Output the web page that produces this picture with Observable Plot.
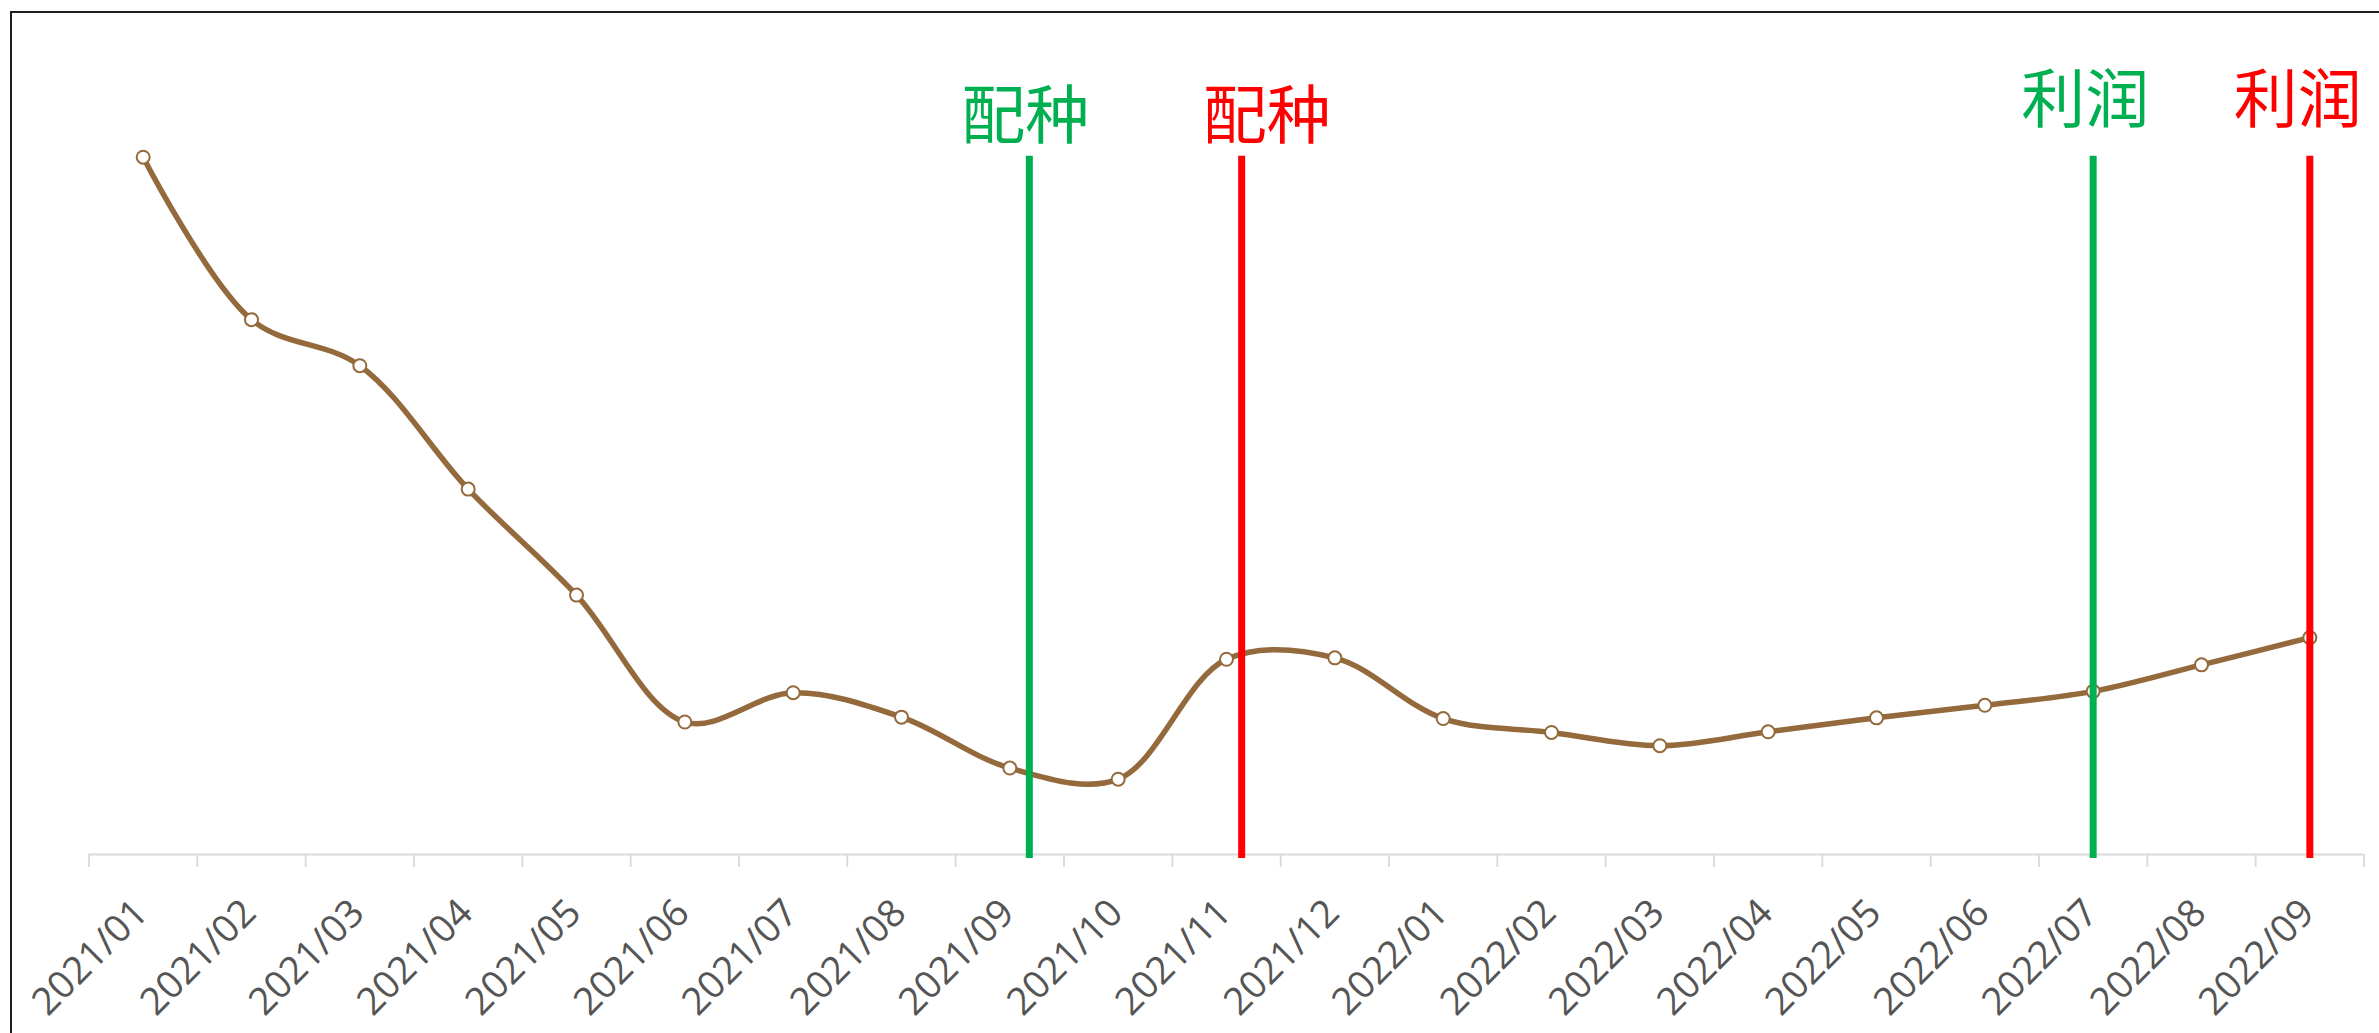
<!DOCTYPE html>
<html>
<head>
<meta charset="utf-8">
<script src="https://cdn.jsdelivr.net/npm/d3@7"></script>
<script src="https://cdn.jsdelivr.net/npm/@observablehq/plot@0.6"></script>
<style>
  html, body { margin: 0; padding: 0; background: #fff; overflow: hidden; }
  #wrap { position: relative; width: 2379px; height: 1033px; }
  #frame { position: absolute; left: 10px; top: 11px; width: 2500px; height: 1200px;
           border-left: 2px solid #1e1e1e; border-top: 2px solid #1e1e1e; pointer-events: none; }
  #chart { position: absolute; left: 0; top: 0; }
</style>
</head>
<body>
<div id="wrap"><div id="chart"></div><div id="frame"></div></div>
<script>
// ---- data ----
const months = ["2021/01","2021/02","2021/03","2021/04","2021/05","2021/06","2021/07",
  "2021/08","2021/09","2021/10","2021/11","2021/12","2022/01","2022/02","2022/03",
  "2022/04","2022/05","2022/06","2022/07","2022/08","2022/09"];
const values = [100, 76.7, 70.1, 52.4, 37.2, 19.0, 23.2, 19.7, 12.4, 10.8, 28.0,
  28.2, 19.5, 17.5, 15.6, 17.6, 19.6, 21.4, 23.4, 27.2, 31.1];
// event markers, position in month-index units
const eventPositions = [8.18, 10.14, 18, 20];
const eventLabels = ["配种", "配种", "利润", "利润"];
const eventColors = ["#00B050", "#FF0000", "#00B050", "#FF0000"];

// ---- styling ----
const labelDx = [-4, 25, -8, -12];
const labelDy = [-40, -40, -56, -56];

const series = months.map((m, i) => ({i, month: m, value: values[i]}));
const events = eventPositions.map((p, k) => ({pos: p, label: eventLabels[k], color: eventColors[k], dx: labelDx[k], dy: labelDy[k]}));
const boundaries = d3.range(months.length + 1).map(i => i - 0.5);

const lineColor = "#946A3C";

const marks = [
  Plot.ruleY([0], {stroke: "#D9D9D9", strokeWidth: 1.8}),
  Plot.axisX({ticks: boundaries, tickSize: 13, tickFormat: () => "", stroke: "#D9D9D9", strokeWidth: 1.8}),
  Plot.text(series, {x: "i", text: "month", frameAnchor: "bottom", rotate: -45,
    textAnchor: "end", lineAnchor: "middle", dy: 52, dx: -2, fontSize: 38,
    fill: "#555555", fontFamily: "'Open Sans', sans-serif"}),
  Plot.line(series, {x: "i", y: "value", stroke: lineColor, strokeWidth: 5.5, curve: "catmull-rom"}),
  Plot.dot(series, {x: "i", y: "value", r: 6.5, fill: "white", stroke: lineColor, strokeWidth: 2}),
  Plot.ruleX(events, {x: "pos", y1: 100, y2: 0, stroke: "color", strokeWidth: 7, insetTop: -1, insetBottom: -4})
];
events.forEach(e => {
  marks.push(Plot.text([e], {x: "pos", text: "label", frameAnchor: "top", fill: e.color,
    fontSize: 64, textAnchor: "middle", lineAnchor: "middle", dx: e.dx, dy: e.dy,
    fontFamily: "'Noto Sans CJK SC', sans-serif"}));
});

const chart = Plot.plot({
  width: 2379,
  height: 1033,
  marginLeft: 88.5,
  marginRight: 15.5,
  marginTop: 156.7,
  marginBottom: 179,
  style: {background: "transparent", overflow: "visible"},
  x: {domain: [-0.5, months.length - 0.5], axis: null},
  y: {domain: [0, 100], axis: null},
  color: {type: "identity"},
  marks
});
document.getElementById("chart").appendChild(chart);
</script>
</body>
</html>
